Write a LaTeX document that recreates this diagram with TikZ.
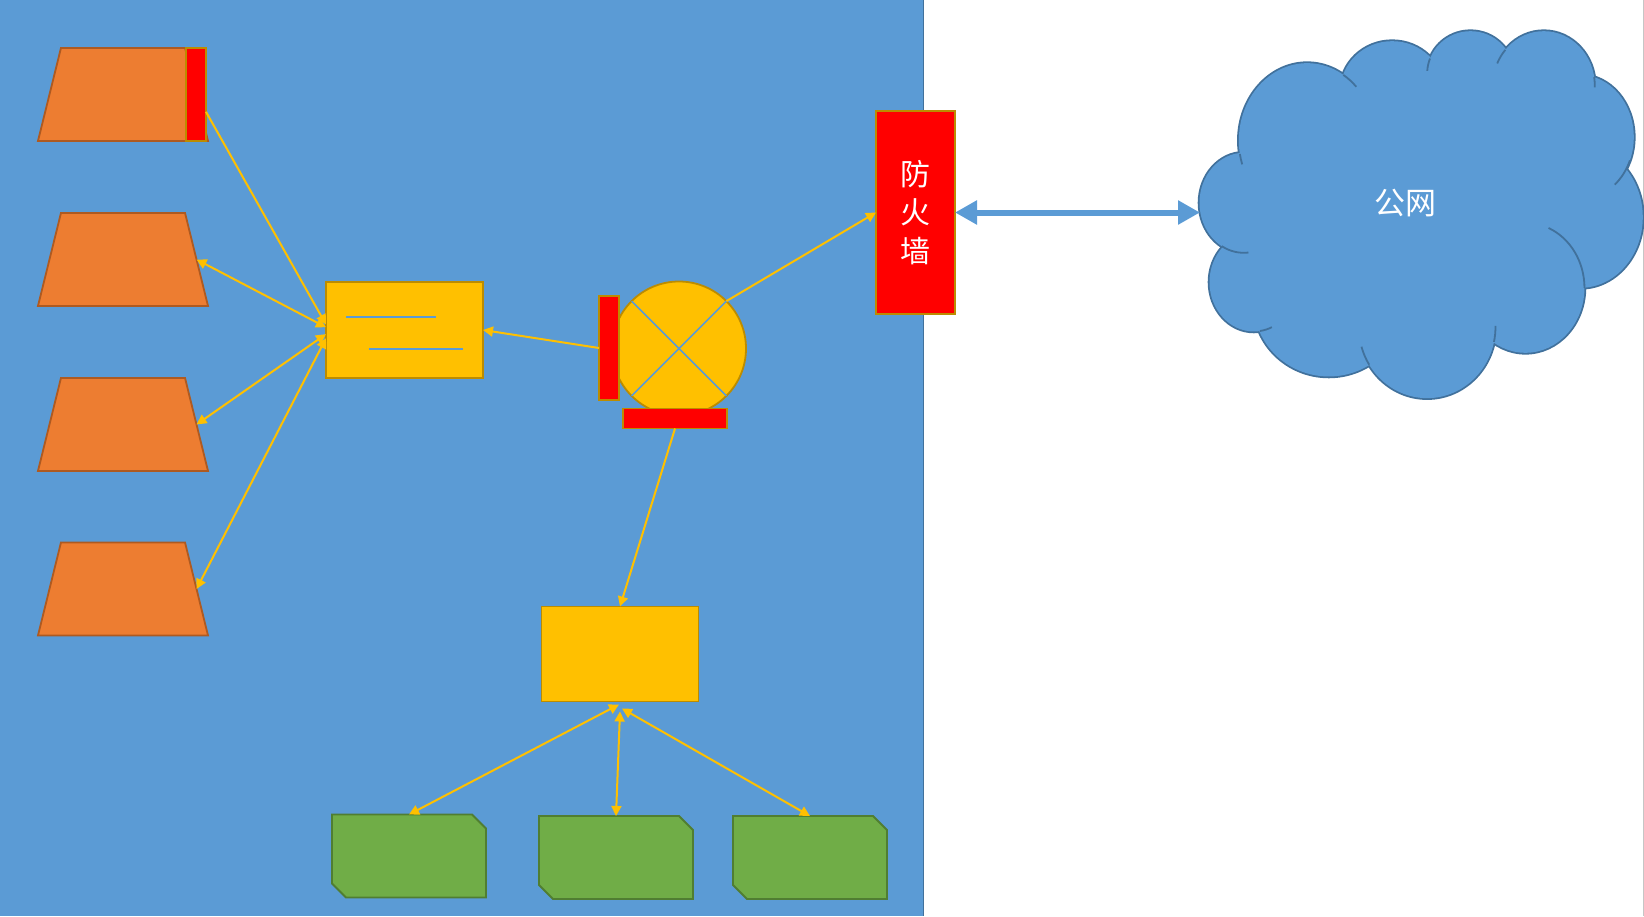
\documentclass[tikz,border=0pt]{standalone}
\usepackage{fontspec}
\newfontfamily\cjk{Noto Sans CJK SC}
\usetikzlibrary{arrows.meta, shapes.geometric, calc}

\definecolor{panelblue}{HTML}{5B9BD5}
\definecolor{panelline}{HTML}{41719C}
\definecolor{hostorange}{HTML}{ED7D31}
\definecolor{hostline}{HTML}{AE5A21}
\definecolor{boxyellow}{HTML}{FFC000}
\definecolor{boxline}{HTML}{BC8C00}
\definecolor{dbgreen}{HTML}{70AD47}
\definecolor{dbline}{HTML}{507E32}

\tikzset{
    hostbox/.style={trapezium, trapezium stretches=true, trapezium left angle=79.5, trapezium right angle=79.5,
        minimum width=170pt, minimum height=93pt, inner sep=1pt, outer sep=0pt,
        draw=hostline, fill=hostorange, line width=1.8pt},
    yellowbox/.style={rectangle, draw=boxline, fill=boxyellow, line width=1.8pt, inner sep=0pt, outer sep=0pt},
    redbar/.style={rectangle, draw=boxline, fill=red, line width=1.8pt, inner sep=0pt, outer sep=0pt},
    dbbox/.style={rectangle, minimum width=154pt, minimum height=83pt, inner sep=0pt, outer sep=0pt},
    dbedge/.style={draw=dbline, fill=dbgreen, line width=1.8pt},
    link/.style={draw=boxyellow, line width=2pt, -{Triangle[length=10pt,width=10pt]}},
    duplex/.style={draw=boxyellow, line width=2pt, {Triangle[length=10pt,width=10pt]}-{Triangle[length=10pt,width=10pt]}},
    blueline/.style={draw=panelblue, line width=1.5pt},
    cloudtick/.style={draw=panelline, line width=1.8pt}
}

\begin{document}
\begin{tikzpicture}[x=1pt, y=-1pt]
    \useasboundingbox (0,0) rectangle (1644,916);

% ---------- panel ----------
    \fill[panelblue] (0,0) rectangle (923,916);
    \draw[panelline, line width=1.2pt] (923.5,0) -- (923.5,916);
    \draw[gray!45, line width=1pt] (1643.5,0) -- (1643.5,916);

% ---------- left column ----------
    \node[hostbox] (hostA) at (123,94.5) {};
    \node[hostbox] (hostB) at (123,259.5) {};
    \node[hostbox] (hostC) at (123,424.5) {};
    \node[hostbox] (hostD) at (123,589) {};
    \node[redbar, minimum width=20pt, minimum height=93pt] (barA) at (196,94.5) {};

% ---------- middle boxes ----------
    \node[yellowbox, minimum width=157pt, minimum height=96pt] (switchA) at (404.5,330) {};
    \draw[blueline] (346,317) -- (436,317);
    \draw[blueline] (369,349) -- (463,349);
    \node[yellowbox, minimum width=157pt, minimum height=95pt] (switchB) at (620,654) {};

% ---------- router ----------
    \node[circle, draw=boxline, fill=boxyellow, line width=1.8pt, minimum size=134pt, inner sep=0pt, outer sep=0pt] (router) at (679,348.5) {};
    \draw[blueline] (router.45) -- (router.225);
    \draw[blueline] (router.135) -- (router.-45);
    \node[redbar, minimum width=20pt, minimum height=104pt] (barL) at (609,348) {};
    \node[redbar, minimum width=104pt, minimum height=20pt] (barS) at (675,418.5) {};

% ---------- firewall ----------
    \node[redbar, minimum width=79pt, minimum height=203pt, text=white, align=center,
        font=\cjk\fontsize{30}{38.5}\selectfont] (firewall) at (915.5,212.5) {防\\火\\墙};

% ---------- green boxes ----------
    \node[dbbox] (dbA) at (409,856) {};
    \node[dbbox] (dbB) at (616,857.5) {};
    \node[dbbox] (dbC) at (810,857.5) {};
    \foreach \n in {dbA,dbB,dbC}{
        \draw[dbedge] (\n.north west) -- ($(\n.north east)+(-14,0)$) -- ($(\n.north east)+(0,14)$)
            -- (\n.south east) -- ($(\n.south west)+(14,0)$) -- ($(\n.south west)+(0,-14)$) -- cycle;
    }

% ---------- cloud ----------
    \begin{scope}[shift={(1180.5,10.5)}, x=0.3333pt, y=-0.3333pt]
        \foreach \cx/\cy/\rx/\ry in {380/390/205/232, 635/240/155/148, 870/190/130/128, 1090/225/153/163,
            1200/380/160/186, 1200/620/187/212, 1035/832/177/195, 740/950/205/213,
            445/880/225/218, 220/815/133/148, 190/577/133/150}{
            \draw[panelline, line width=3.6pt] (\cx,\cy) ellipse[x radius=\rx, y radius=\ry];
        }
        \foreach \cx/\cy/\rx/\ry in {380/390/205/232, 635/240/155/148, 870/190/130/128, 1090/225/153/163,
            1200/380/160/186, 1200/620/187/212, 1035/832/177/195, 740/950/205/213,
            445/880/225/218, 220/815/133/148, 190/577/133/150}{
            \fill[panelblue] (\cx,\cy) ellipse[x radius=\rx, y radius=\ry];
        }
        \fill[panelblue] (380,390) -- (635,240) -- (870,190) -- (1090,225) -- (1200,380) -- (1200,620)
            -- (1035,832) -- (740,950) -- (445,880) -- (220,815) -- (190,577) -- cycle;
        % inner bits of the outline
        \foreach \cx/\cy/\rx/\ry/\a/\b in {380/390/205/232/-58/-44, 380/390/205/232/170/162,
            870/190/130/128/201/184, 1090/225/153/163/221/204, 1090/225/153/163/-9/2,
            1200/380/160/186/22/50, 1035/832/177/195/0/-67, 740/950/205/213/12/-1,
            740/950/205/213/148/164, 220/815/133/148/82/66, 190/577/133/150/120/84}{
            \draw[cloudtick] (\cx,\cy) ++(\a:\rx\space and \ry) arc[start angle=\a, end angle=\b, x radius=\rx, y radius=\ry];
        }
    \end{scope}
    \coordinate (cloudport) at (1200,212.5);
    \node[text=white, font=\cjk\fontsize{31}{31}\selectfont] (pubnet) at (1405,203) {公网};

% ---------- connectors ----------
    \draw[link] (barA.-60) -- (switchA.176);
    \draw[duplex] (hostB.east) -- (switchA.178);
    \draw[duplex] (hostC.east) -- (switchA.183);
    \draw[duplex] (hostD.east) -- (switchA.186);
    \draw[link] (barL.west) -- (switchA.east);
    \draw[link] (router.45) -- (firewall.west);
    \draw[link] (barS.south) -- (switchB.north);
    \draw[duplex] (dbA.north) -- ([shift={(-1pt,-3pt)}]switchB.south);
    \draw[duplex] (dbB.north) -- ([yshift=-10pt]switchB.south);
    \draw[duplex] (dbC.north) -- ([shift={(2pt,-7pt)}]switchB.south);
    \draw[panelblue, line width=6pt, {Triangle[length=22pt,width=23pt]}-{Triangle[length=22pt,width=23pt]}] (firewall.east) -- (cloudport);

\end{tikzpicture}
\end{document}
